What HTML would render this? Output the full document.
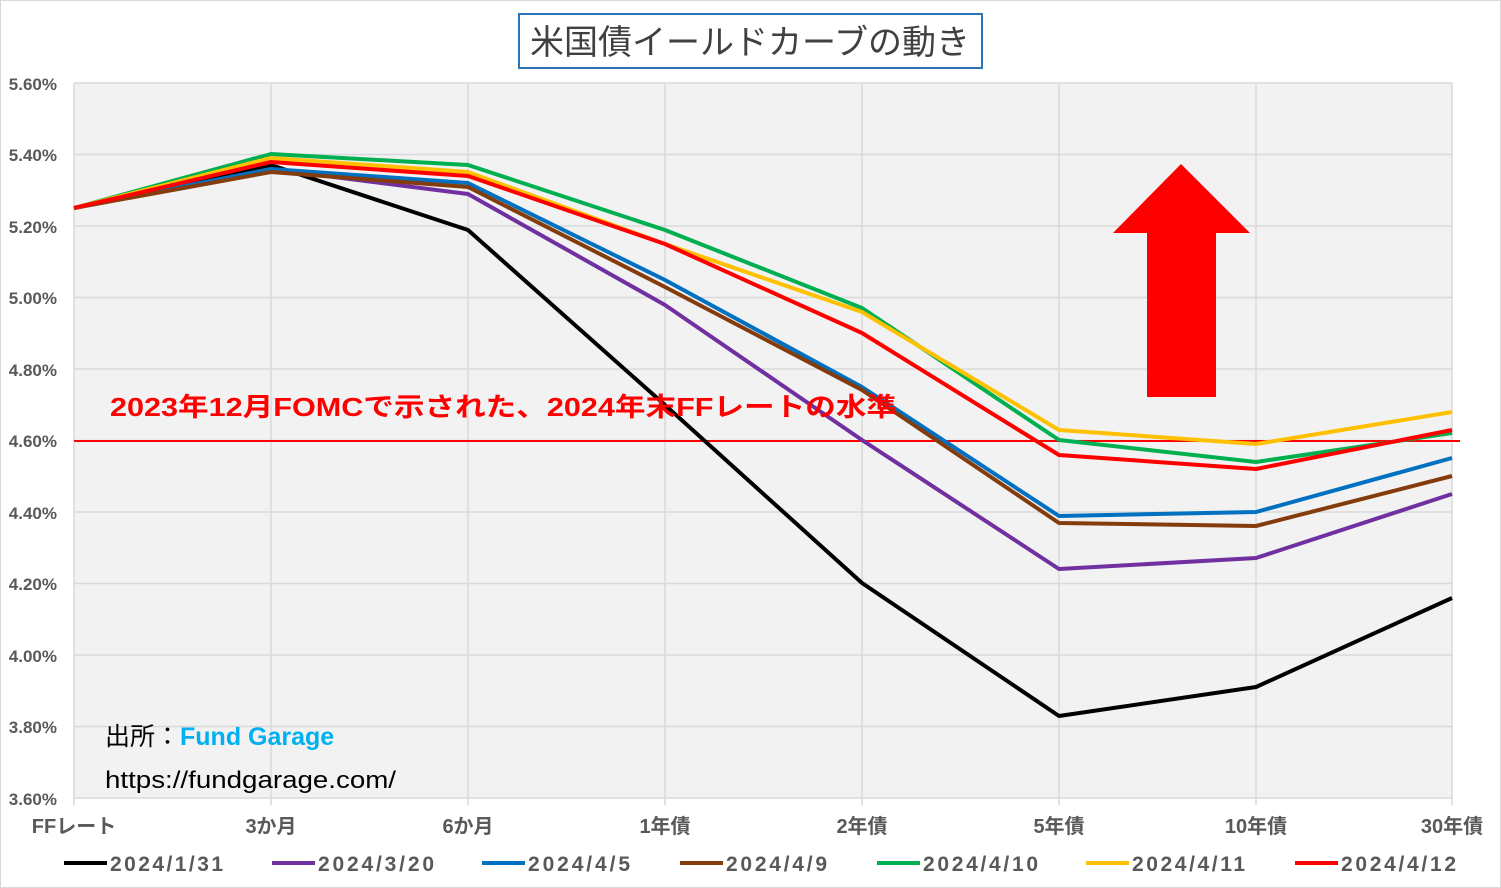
<!DOCTYPE html>
<html><head><meta charset="utf-8"><style>
html,body{margin:0;padding:0;background:#fff;}
svg{display:block;}
text{font-family:"Liberation Sans","Noto Sans CJK JP",sans-serif;}
</style></head><body>
<svg width="1501" height="888" viewBox="0 0 1501 888" xmlns="http://www.w3.org/2000/svg">
<rect x="0.5" y="0.5" width="1500" height="887" fill="#fff" stroke="#d9d9d9"/>
<rect x="74" y="83" width="1378" height="715" fill="#f2f2f2"/>
<g stroke="#d9d9d9" stroke-width="1.5">
<line x1="74" y1="83" x2="1452" y2="83"/><line x1="74" y1="154.5" x2="1452" y2="154.5"/>
<line x1="74" y1="226" x2="1452" y2="226"/><line x1="74" y1="297.5" x2="1452" y2="297.5"/>
<line x1="74" y1="369" x2="1452" y2="369"/><line x1="74" y1="440.5" x2="1452" y2="440.5"/>
<line x1="74" y1="512" x2="1452" y2="512"/><line x1="74" y1="583.5" x2="1452" y2="583.5"/>
<line x1="74" y1="655" x2="1452" y2="655"/><line x1="74" y1="726.5" x2="1452" y2="726.5"/>
<line x1="271" y1="83" x2="271" y2="805"/><line x1="468" y1="83" x2="468" y2="805"/>
<line x1="665" y1="83" x2="665" y2="805"/><line x1="862" y1="83" x2="862" y2="805"/>
<line x1="1059" y1="83" x2="1059" y2="805"/><line x1="1256" y1="83" x2="1256" y2="805"/>
<line x1="1452" y1="83" x2="1452" y2="805"/><line x1="74" y1="83" x2="74" y2="805"/>
<line x1="74" y1="798" x2="1452" y2="798"/>
</g>
<g font-size="17" font-weight="bold" fill="#595959" text-anchor="end">
<text x="57" y="90">5.60%</text><text x="57" y="161">5.40%</text><text x="57" y="233">5.20%</text>
<text x="57" y="304">5.00%</text><text x="57" y="376">4.80%</text><text x="57" y="447">4.60%</text>
<text x="57" y="519">4.40%</text><text x="57" y="590">4.20%</text><text x="57" y="662">4.00%</text>
<text x="57" y="733">3.80%</text><text x="57" y="805">3.60%</text>
</g>
<g font-size="20" font-weight="bold" fill="#595959" text-anchor="middle">
<text x="74" y="833">FFレート</text><text x="271" y="833">3か月</text><text x="468" y="833">6か月</text>
<text x="665" y="833">1年債</text><text x="862" y="833">2年債</text><text x="1059" y="833">5年債</text>
<text x="1256" y="833">10年債</text><text x="1452" y="833">30年債</text>
</g>
<line x1="74" y1="441" x2="1460" y2="441" stroke="#ff0000" stroke-width="2"/>
<g fill="none" stroke-width="4" stroke-linejoin="round">
<polyline stroke="#000" points="74,208 271,165 468,230 665,405 862,583 1059,716 1256,687 1452,598"/>
<polyline stroke="#7030a0" points="74,208 271,169 468,194 665,305 862,440 1059,569 1256,558 1452,494"/>
<polyline stroke="#0070c0" points="74,208 271,169 468,183 665,280 862,387 1059,516 1256,512 1452,458"/>
<polyline stroke="#843c0c" points="74,208 271,172 468,187 665,287 862,390 1059,523 1256,526 1452,476"/>
<polyline stroke="#00b050" points="74,208 271,154 468,165 665,230 862,308 1059,440 1256,462 1452,433"/>
<polyline stroke="#ffc000" points="74,208 271,158 468,172 665,244 862,312 1059,430 1256,444 1452,412"/>
<polyline stroke="#ff0000" points="74,208 271,162 468,176 665,244 862,333 1059,455 1256,469 1452,430"/>
</g>
<polygon fill="#ff0000" points="1181,164 1250,233 1216,233 1216,397 1147,397 1147,233 1113,233"/>
<text x="110" y="416" font-size="26" font-weight="bold" fill="#ff0000" textLength="787" lengthAdjust="spacingAndGlyphs">2023年12月FOMCで示された、2024年末FFレートの水準</text>
<text x="105" y="745" font-size="25" fill="#000">出所：<tspan fill="#00b0f0" font-weight="bold">Fund Garage</tspan></text>
<text x="105" y="788" font-size="24" fill="#000" textLength="291" lengthAdjust="spacingAndGlyphs">https://fundgarage.com/</text>
<rect x="519" y="14" width="463" height="54" fill="#fff" stroke="#2e75b6" stroke-width="2"/>
<text x="750" y="54" font-size="34" fill="#404040" text-anchor="middle">米国債イールドカーブの動き</text>
<g stroke-width="4">
<line x1="64" y1="863" x2="107" y2="863" stroke="#000"/>
<line x1="272" y1="863" x2="315" y2="863" stroke="#7030a0"/>
<line x1="482" y1="863" x2="525" y2="863" stroke="#0070c0"/>
<line x1="680" y1="863" x2="723" y2="863" stroke="#843c0c"/>
<line x1="877" y1="863" x2="920" y2="863" stroke="#00b050"/>
<line x1="1086" y1="863" x2="1129" y2="863" stroke="#ffc000"/>
<line x1="1295" y1="863" x2="1338" y2="863" stroke="#ff0000"/>
</g>
<g font-size="21" font-weight="bold" fill="#595959">
<text x="110" y="871" textLength="113">2024/1/31</text><text x="318" y="871" textLength="116">2024/3/20</text>
<text x="528" y="871" textLength="102">2024/4/5</text><text x="726" y="871" textLength="101">2024/4/9</text>
<text x="923" y="871" textLength="115">2024/4/10</text><text x="1132" y="871" textLength="113">2024/4/11</text>
<text x="1341" y="871" textLength="115">2024/4/12</text>
</g>
</svg>
</body></html>
